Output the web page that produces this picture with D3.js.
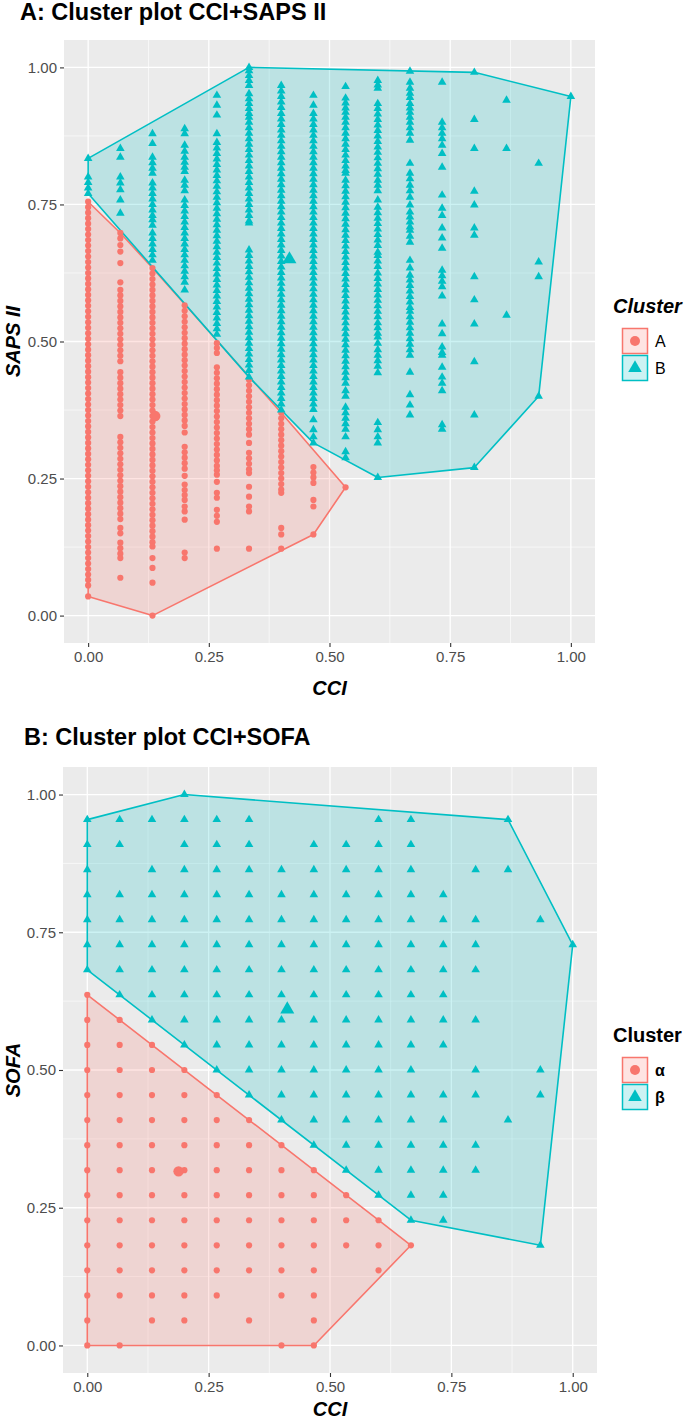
<!DOCTYPE html>
<html><head><meta charset="utf-8">
<script src="https://cdn.jsdelivr.net/npm/d3@7"></script>
<style>
body{margin:0;background:#fff}
svg{display:block}
text{font-family:"Liberation Sans",Arial,Helvetica,sans-serif}
</style>
</head><body>
<svg id="chart" width="685" height="1421"></svg>
<script>
// ---------------- DATA ----------------
const cciLevels = [0, 0.0667, 0.1333, 0.2, 0.2667, 0.3333, 0.4, 0.4667, 0.5333, 0.6, 0.6667, 0.7333, 0.8, 0.8667, 0.9333, 1];
const tickValues = [0, 0.25, 0.5, 0.75, 1];
const tickLabels = ["0.00", "0.25", "0.50", "0.75", "1.00"];

// Panel A: SAPS II values (in hundredths) per CCI level, cluster A (red)
const sapsA_clusterA = [
  [75.5,74.5,73.5,72.5,71.5,70.5,69.5,68.5,67.5,66.5,65.5,64.5,63.5,62.5,61.5,60.5,59.5,58.5,57.5,56.5,55.5,54.5,53.5,52.5,51.5,50.5,49.5,48.5,47.5,46.5,45.5,44.5,43.5,42.5,41.5,40.5,39.5,38.5,37.5,36.5,35.5,34.5,33.5,32.5,31.5,30.5,29.5,28.5,27.5,26.5,25.5,24.5,23.5,22.5,21.5,20.5,19.5,18.5,17.5,16.5,15.5,14.5,13.5,12.5,11.5,10.5,9.5,8.5,7.5,6.5,5.5,3.5],
  [69.8,68.8,67.6,66.4,64.3,60.8,59.4,58.4,57.4,56.4,55.4,54.4,53.4,52.4,51.4,50.4,49.4,48.4,47.4,46.4,44.4,43.4,42.4,41.4,40.4,39.4,38.4,37.4,36.4,32.6,31.6,30.6,29.6,28.6,27.6,26.6,25.6,24.6,23.6,22.6,21.6,20.6,19.6,18.6,17.6,16,15,13.3,12.3,11.3,10.5,6.9],
  [63.4,62.4,61.4,60.4,59.4,58.4,57.4,56.4,55.4,54.4,53.4,52.4,51.4,50.4,49.4,48.4,47.4,46.4,45.4,44.4,43.4,42.4,41.4,40.4,39.4,38.4,37.4,36.4,35.4,34.4,33.4,32.4,31.4,30.4,29.4,28.4,27.4,26.4,25.4,24.4,23.4,22.4,21.4,20.4,19.4,18.4,17.4,16.4,15.4,14.4,13.4,12.6,10.5,8.7,6,0],
  [56.6,55.6,54.6,53.6,52.6,51.6,50.6,49.6,48.6,47.6,46.6,45.6,44.6,43.6,42.6,41.6,40.6,39.6,38.6,37.6,36.6,35.6,34.6,33.4,30.8,29.8,28.8,27.8,26.8,25.5,23.9,22.9,22,21.1,19.9,19,17.5,11.5,10.5],
  [49.7,48.8,47.9,45.3,44.3,43.3,42.3,41.3,40.3,39.3,38.3,37.3,36.3,35.3,34.3,33.3,32.3,31.3,30.3,29.3,28.3,27.3,26.5,25.7,24.4,22.4,21.5,19.3,18.2,17.1,12.2],
  [43,42,41,40,39,38,37,36,35,34,33,31.5,29.7,28.7,27.7,26.7,26,23.5,21.7,19.9,19,12.2],
  [37,36,35,34,33,32,31,30,29,28,27,26,25,24,23,22.4,16,14.8,12.2],
  [27.1,26.1,25.2,24.2,21.1,19.9,14.8],
  [23.4],
  [],[],[],[],[],[],[]
];
// Panel A: cluster B (teal)
const sapsA_clusterB = [
  [83.4,80,79,78,77],
  [85.2,83.6,80,78.9,77.7,75.8,73.4],
  [87.9,86.1,83.6,82.6,81.6,80.7,78.9,78,77,76,75,74,73,72.2,71.2,69.8,68.8,67.8,66.8,65.8,64.8],
  [88.8,87.9,85.8,84.7,83.6,82.7,81.8,81,79.4,78.5,77.5,75.8,74.8,73.8,72.8,71.8,70.8,69.8,68.8,67.8,66.8,65.8,64.8,63.8,62.8,61.8,60.8,59.4],
  [94.9,93.1,91.3,87.9,86.3,85.3,84.3,83.3,82.3,81.3,80.3,79.3,78.3,77.3,76.3,75.3,74.3,73.3,72.3,71.3,70.3,69.3,68.3,67.3,66.3,65.3,64.3,63.3,62.3,61.3,60.3,59.3,58.3,57.3,56.3,55.3,54.3,53.3,52.3,51.3],
  [100,99.4,98.5,97.6,96.7,95.2,94.3,93.4,92.5,91.6,90.9,90,89,88,87,86,85,84,83,82,81,80,79,78,77,76,75,74,73,72,71.6,66.7,65.7,64.7,63.7,62.7,61.7,60.7,59.7,58.7,57.7,56.7,55.7,54.7,53.7,52.7,51.7,50.7,49.7,48.7,47.7,46.7,45.7,44.7,43.5],
  [96.7,95.7,94.7,93.7,92.7,91.6,90.6,89.6,88.6,87.6,86.6,85.6,84.6,83.6,82.6,81.6,80.6,79.6,78.6,77.6,76.6,75.6,74.6,73.6,72.6,71.6,70.6,69.6,68.6,67.6,66.6,65.6,64.6,63.6,62.6,61.6,60.6,59.6,58.6,57.6,56.6,55.6,54.6,53.6,52.6,51.6,50.6,49.6,48.6,47.6,46.6,45.6,44.6,43.6,42.6,41.6,40.6,39.6,38.6,37.5],
  [94.9,93.1,91.6,90.6,89.6,88.6,87.6,86.6,85.6,84.6,83.6,82.6,81.6,80.6,79.6,78.6,77.6,76.6,75.6,74.6,73.6,72.6,71.6,70.6,69.6,68.6,67.6,66.6,65.6,64.6,63.6,62.6,61.6,60.6,59.6,58.6,57.6,56.6,55.6,54.6,53.6,52.6,51.6,50.6,49.6,48.6,47.6,46.6,45.6,44.6,43.6,42.6,41.6,40.6,39.6,38.6,37.6,35.7,33.9,32.6,31.5],
  [96.5,94.4,93.5,92.6,91.8,90.9,90,89,88,87,86,85,84,83,82,81.2,80.7,79.4,78.4,77.4,76.4,75.4,74.4,73.4,72.4,71.4,70.4,69.4,68.4,67.4,66.4,65.4,64.4,63.4,62.4,61.4,60.4,59.4,58.4,57.4,56.4,55.4,54.4,53.4,52.4,51.4,50.4,49.4,48.4,47.4,46.4,45.4,44.4,43.4,42.4,41,40,38,37,36,35,34,32.6,29.9,28.8],
  [97.6,96.8,96.2,93.4,92.5,91.5,90.5,89.5,88.5,87.5,86.5,85.5,84.5,83.5,82.5,81.5,80.5,79.4,78.5,77.5,75.8,74.5,73.5,72.5,71.5,70.5,69.5,68.5,67.5,66.3,65.7,64.7,63.7,62.5,61.5,60.5,59.5,58.5,57.5,56.5,55.5,54.5,53.4,52.5,51.5,50.8,49.7,48.5,47.5,46.5,45.5,44.3,35.2,33.9,32.6,31.5,25.2],
  [99.3,97.3,96.2,95.3,94.5,93.4,92.6,91.8,90.9,90,89,88,86.7,82.5,80.7,79.7,78.5,77.5,76.3,74.9,73.6,72.7,71.8,70.9,70.3,69.2,68.1,64.8,63.4,62.1,61.2,60.2,59.2,58.2,57.2,56.2,55.5,54.5,53.5,52.5,51.5,50.5,49.5,48.5,47.5,44.4,40.3,38.4,36.6],
  [97.3,90,89,88,87,85.8,84.3,81.8,76.7,74.3,73,70.7,68.9,67,63,62,61,60,58.3,53.2,51.4,49,48,47.5,45.3,43.5,42.4,41,34.8,34],
  [99.1,90.5,85.2,77.4,74.9,70.7,69.4,61.8,57.6,53.2,46.3,36.6,27],
  [94,85.2,54.8],
  [82.5,64.5,61.8,40],
  [94.7]
];
// Panel A centroids [CCI, SAPS II]
const centroidA_A = [0.139, 0.364];
const centroidA_B = [0.417, 0.65];

// Panel B: SOFA levels and, per SOFA level index, the CCI level indices present
const sofaLevels = [0, 0.0455, 0.0909, 0.1364, 0.1818, 0.2273, 0.2727, 0.3182, 0.3636, 0.4091, 0.4545, 0.5, 0.5455, 0.5909, 0.6364, 0.6818, 0.7273, 0.7727, 0.8182, 0.8636, 0.9091, 0.9545, 1];
const sofaB_alpha = [
  [0,1,6,7],
  [0,2,3,5,7],
  [0,1,2,3,4,6,7],
  [0,1,2,3,4,5,6,7,9],
  [0,1,2,3,4,5,6,7,8,9,10],
  [0,1,2,3,4,5,6,7,8,9],
  [0,1,2,3,4,5,6,7,8],
  [0,1,2,3,4,5,6,7],
  [0,1,2,3,4,5,6],
  [0,1,2,3,4,5],
  [0,1,2,3,4],
  [0,1,2,3],
  [0,1,2],
  [0,1],
  [0],
  [],[],[],[],[],[],[],[]
];
const sofaB_beta = [
  [],[],[],[],
  [14],
  [10,11],
  [9,10,11],
  [8,9,10,11,12],
  [7,8,9,10,11,12],
  [6,7,8,9,10,11,13],
  [5,6,7,8,9,10,11,12,14],
  [4,5,6,7,8,9,10,12,14],
  [3,4,5,6,7,8,9,10,11],
  [2,3,4,5,6,7,8,9,10,11,12],
  [1,2,3,4,5,6,7,8,9,10,11],
  [0,1,2,3,4,5,6,7,8,9,10,11,12],
  [0,1,2,3,4,5,6,7,8,9,10,11,12,15],
  [0,1,2,3,4,5,6,7,8,9,10,11,12,14],
  [0,1,2,3,4,5,6,7,8,9,10,11],
  [0,2,3,4,5,6,7,8,9,10,12,13],
  [0,1,3,4,5,7,8,9,10],
  [0,1,2,3,4,5,9,10,13],
  [3]
];
const centroidB_alpha = [0.188, 0.316];
const centroidB_beta = [0.412, 0.61];

const colRed = "#F8766D", colTeal = "#00BFC4";

// ---------------- BUILD POINTS ----------------
function colsToPoints(cols) {
  const pts = [];
  cols.forEach((vals, i) => vals.forEach(v => pts.push([cciLevels[i], v / 100])));
  return pts;
}
function rowsToPoints(rows) {
  const pts = [];
  rows.forEach((is, j) => is.forEach(i => pts.push([cciLevels[i], sofaLevels[j]])));
  return pts;
}

const svg = d3.select("#chart");

function drawPanel(cfg) {
  const g = svg.append("g");
  const x = d3.scaleLinear().domain([-0.05, 1.05]).range([cfg.left, cfg.right]);
  const y = d3.scaleLinear().domain([-0.05, 1.05]).range([cfg.bottom, cfg.top]);

  // title
  g.append("text").attr("x", cfg.titleX).attr("y", cfg.titleY)
    .attr("font-size", 23.5).attr("font-weight", "bold").attr("fill", "#000")
    .text(cfg.title);

  // panel background
  g.append("rect").attr("x", cfg.left).attr("y", cfg.top)
    .attr("width", cfg.right - cfg.left).attr("height", cfg.bottom - cfg.top)
    .attr("fill", "#EBEBEB");
  const minor = [0.125, 0.375, 0.625, 0.875];
  minor.forEach(v => {
    g.append("line").attr("x1", x(v)).attr("x2", x(v)).attr("y1", cfg.top).attr("y2", cfg.bottom)
      .attr("stroke", "#fff").attr("stroke-width", 0.6);
    g.append("line").attr("y1", y(v)).attr("y2", y(v)).attr("x1", cfg.left).attr("x2", cfg.right)
      .attr("stroke", "#fff").attr("stroke-width", 0.6);
  });
  tickValues.forEach(v => {
    g.append("line").attr("x1", x(v)).attr("x2", x(v)).attr("y1", cfg.top).attr("y2", cfg.bottom)
      .attr("stroke", "#fff").attr("stroke-width", 1.3);
    g.append("line").attr("y1", y(v)).attr("y2", y(v)).attr("x1", cfg.left).attr("x2", cfg.right)
      .attr("stroke", "#fff").attr("stroke-width", 1.3);
  });

  // axes
  const xAxis = d3.axisBottom(x).tickValues(tickValues).tickFormat((d, i) => tickLabels[i]).tickSize(4).tickPadding(4);
  const yAxis = d3.axisLeft(y).tickValues(tickValues).tickFormat((d, i) => tickLabels[i]).tickSize(4).tickPadding(3);
  const gx = g.append("g").attr("transform", `translate(0,${cfg.bottom})`).call(xAxis);
  const gy = g.append("g").attr("transform", `translate(${cfg.left},0)`).call(yAxis);
  [gx, gy].forEach(a => {
    a.select(".domain").remove();
    a.selectAll("line").attr("stroke", "#333").attr("stroke-width", 1.1);
    a.selectAll("text").attr("fill", "#4D4D4D").attr("font-size", 15)
      .style("font-family", '"Liberation Sans",Arial,sans-serif');
  });

  // axis titles
  g.append("text").attr("x", (cfg.left + cfg.right) / 2).attr("y", cfg.xTitleY)
    .attr("text-anchor", "middle").attr("font-size", 20).attr("font-weight", "bold")
    .attr("font-style", "italic").text("CCI");
  g.append("text").attr("transform", `translate(${cfg.yTitleX},${(cfg.top + cfg.bottom) / 2}) rotate(-90)`)
    .attr("text-anchor", "middle").attr("font-size", 20).attr("font-weight", "bold")
    .attr("font-style", "italic").text(cfg.yTitle);

  // clip for data
  const clipId = "clip" + cfg.id;
  svg.append("clipPath").attr("id", clipId).append("rect")
    .attr("x", cfg.left).attr("y", cfg.top).attr("width", cfg.right - cfg.left).attr("height", cfg.bottom - cfg.top);
  const dg = g.append("g").attr("clip-path", `url(#${clipId})`);

  const groups = [
    {pts: cfg.ptsRed, color: colRed, shape: "circle", centroid: cfg.centRed},
    {pts: cfg.ptsTeal, color: colTeal, shape: "triangle", centroid: cfg.centTeal}
  ];
  groups.forEach(gr => {
    const hull = d3.polygonHull(gr.pts.map(p => [x(p[0]), y(p[1])]));
    dg.append("path").attr("d", "M" + hull.join("L") + "Z")
      .attr("fill", gr.color).attr("fill-opacity", 0.2)
      .attr("stroke", gr.color).attr("stroke-width", 1.6).attr("stroke-linejoin", "round");
  });
  groups.forEach(gr => {
    if (gr.shape === "circle") {
      dg.selectAll(null).data(gr.pts).enter().append("circle")
        .attr("cx", d => x(d[0])).attr("cy", d => y(d[1])).attr("r", 3.1).attr("fill", gr.color);
      dg.append("circle").attr("cx", x(gr.centroid[0])).attr("cy", y(gr.centroid[1])).attr("r", 5.2).attr("fill", gr.color);
    } else {
      const sym = d3.symbol().type(d3.symbolTriangle).size(32);
      dg.selectAll(null).data(gr.pts).enter().append("path")
        .attr("d", sym).attr("transform", d => `translate(${x(d[0])},${y(d[1])})`).attr("fill", gr.color);
      dg.append("path").attr("d", d3.symbol().type(d3.symbolTriangle).size(85)())
        .attr("transform", `translate(${x(gr.centroid[0])},${y(gr.centroid[1])})`).attr("fill", gr.color);
    }
  });

  // legend
  const lg = g.append("g");
  lg.append("text").attr("x", cfg.legX).attr("y", cfg.legY)
    .attr("font-size", 20).attr("font-weight", "bold").attr("font-style", cfg.legItalic ? "italic" : "normal")
    .text("Cluster");
  const keys = [{c: colRed, s: "circle", l: cfg.labels[0]}, {c: colTeal, s: "triangle", l: cfg.labels[1]}];
  keys.forEach((k, i) => {
    const ky = cfg.legY + 15 + i * 27;
    const kx = cfg.legX + 9;
    lg.append("rect").attr("x", kx + 0.5).attr("y", ky + 0.5).attr("width", 25).attr("height", 25)
      .attr("fill", k.c).attr("fill-opacity", 0.2).attr("stroke", k.c).attr("stroke-width", 1.5);
    if (k.s === "circle") {
      lg.append("circle").attr("cx", kx + 13).attr("cy", ky + 13).attr("r", 5).attr("fill", k.c);
    } else {
      lg.append("path").attr("d", d3.symbol().type(d3.symbolTriangle).size(80)())
        .attr("transform", `translate(${kx + 13},${ky + 13})`).attr("fill", k.c);
    }
    lg.append("text").attr("x", kx + 33).attr("y", ky + 19)
      .attr("font-size", 16).attr("font-weight", cfg.labelBold ? "bold" : "normal").text(k.l);
  });
}

drawPanel({
  id: "A", title: "A: Cluster plot CCI+SAPS II", titleX: 20, titleY: 20,
  left: 64, right: 595, top: 40, bottom: 643,
  xTitleY: 695, yTitleX: 20, yTitle: "SAPS II",
  ptsRed: colsToPoints(sapsA_clusterA), ptsTeal: colsToPoints(sapsA_clusterB),
  centRed: centroidA_A, centTeal: centroidA_B,
  legX: 613, legY: 313, legItalic: true, labels: ["A", "B"], labelBold: false
});
drawPanel({
  id: "B", title: "B: Cluster plot CCI+SOFA", titleX: 24, titleY: 745,
  left: 63, right: 597, top: 767, bottom: 1373,
  xTitleY: 1416, yTitleX: 20, yTitle: "SOFA",
  ptsRed: rowsToPoints(sofaB_alpha), ptsTeal: rowsToPoints(sofaB_beta),
  centRed: centroidB_alpha, centTeal: centroidB_beta,
  legX: 613, legY: 1042, legItalic: false, labels: ["α", "β"], labelBold: true
});
</script>
</body></html>
